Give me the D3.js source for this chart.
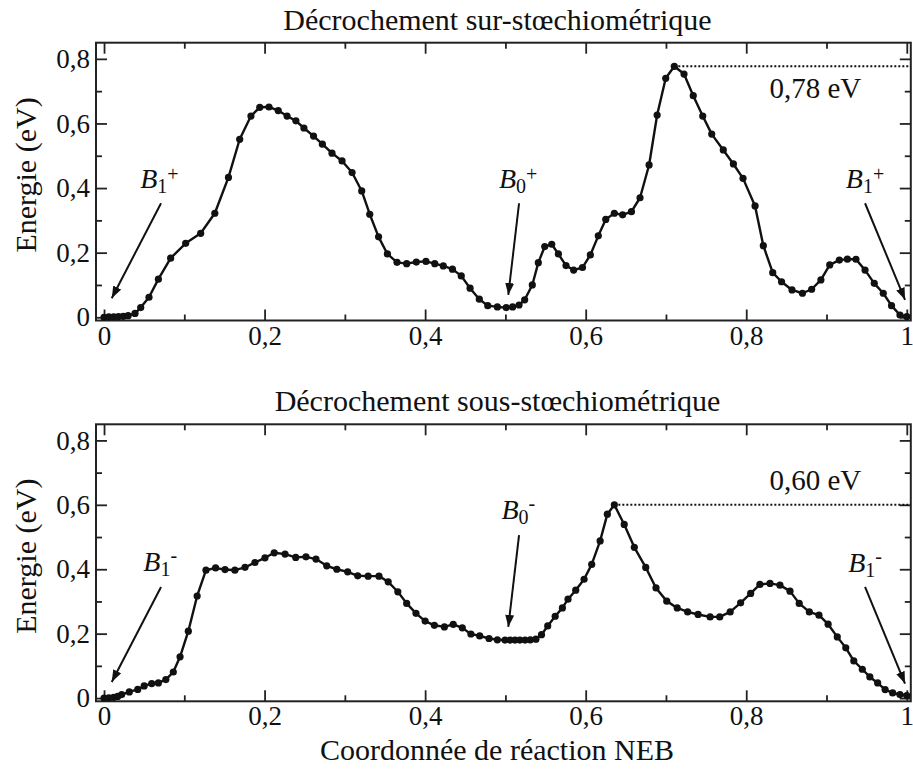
<!DOCTYPE html>
<html>
<head>
<meta charset="utf-8">
<script src="https://cdn.jsdelivr.net/npm/d3@7"></script>
<style>
  html, body { margin: 0; padding: 0; background: #fff; }
  svg { display: block; }
</style>
</head>
<body>
<svg id="chart" width="913" height="769"></svg>
<script>
// ---------------- DATA ----------------
const panelTitles = ["Décrochement sur-stœchiométrique", "Décrochement sous-stœchiométrique"];
const xAxisTitle = "Coordonnée de réaction NEB";
const yAxisTitle = "Energie (eV)";
const barrierLabels = ["0,78 eV", "0,60 eV"];

const xTickValues = [0, 0.2, 0.4, 0.6, 0.8, 1];
const xTickLabels = ["0", "0,2", "0,4", "0,6", "0,8", "1"];
const xMinorTicks = [0.1, 0.3, 0.5, 0.7, 0.9];
const yTickValues = [0, 0.2, 0.4, 0.6, 0.8];
const yTickLabels = ["0", "0,2", "0,4", "0,6", "0,8"];
const yMinorTicks = [0.1, 0.3, 0.5, 0.7];

// Top panel : sur-stoechiometrique
const xTop = [0, 0.006, 0.012, 0.018, 0.024, 0.030, 0.0386, 0.0457, 0.056, 0.0677,
  0.083, 0.1017, 0.1204, 0.138, 0.155, 0.169, 0.183, 0.194, 0.2055, 0.217,
  0.228, 0.239, 0.249, 0.261, 0.272, 0.284, 0.2965, 0.309, 0.321, 0.331,
  0.342, 0.353, 0.365, 0.377, 0.389, 0.401, 0.412, 0.4226, 0.434, 0.445,
  0.456, 0.4675, 0.478, 0.490, 0.501, 0.509, 0.517, 0.524, 0.5335, 0.541,
  0.549, 0.5577, 0.566, 0.5755, 0.585, 0.596, 0.6058, 0.6157, 0.625, 0.6357,
  0.646, 0.657, 0.6677, 0.679, 0.689, 0.6997, 0.7104, 0.7225, 0.734, 0.7458,
  0.757, 0.7714, 0.784, 0.796, 0.811, 0.8213, 0.833, 0.844, 0.857, 0.870,
  0.8815, 0.893, 0.904, 0.916, 0.926, 0.9367, 0.948, 0.9595, 0.9707, 0.981,
  0.9915, 1.0];
const yTop = [0.000, 0.001, 0.001, 0.002, 0.003, 0.005, 0.012, 0.030, 0.062, 0.118,
  0.183, 0.229, 0.260, 0.322, 0.433, 0.551, 0.623, 0.650, 0.651, 0.640,
  0.623, 0.608, 0.586, 0.561, 0.536, 0.508, 0.484, 0.448, 0.391, 0.319,
  0.249, 0.196, 0.170, 0.166, 0.171, 0.173, 0.166, 0.159, 0.149, 0.128,
  0.090, 0.056, 0.036, 0.032, 0.030, 0.032, 0.038, 0.054, 0.100, 0.169,
  0.219, 0.226, 0.196, 0.160, 0.146, 0.154, 0.193, 0.252, 0.303, 0.322,
  0.317, 0.327, 0.370, 0.4715, 0.626, 0.740, 0.777, 0.753, 0.686, 0.623,
  0.567, 0.518, 0.4746, 0.430, 0.3446, 0.2217, 0.138, 0.110, 0.0845, 0.0743,
  0.0867, 0.1155, 0.162, 0.177, 0.180, 0.1796, 0.146, 0.105, 0.0743, 0.036,
  0.007, 0.002];

// Bottom panel : sous-stoechiometrique
const xBot = [0, 0.006, 0.012, 0.017, 0.022, 0.0315, 0.042, 0.050, 0.0594, 0.0677,
  0.077, 0.0863, 0.0947, 0.105, 0.116, 0.127, 0.139, 0.1507, 0.163, 0.1756,
  0.188, 0.2005, 0.212, 0.2255, 0.2388, 0.2516, 0.264, 0.2774, 0.290, 0.3035,
  0.316, 0.329, 0.3425, 0.354, 0.366, 0.377, 0.3886, 0.400, 0.4115, 0.424,
  0.435, 0.4463, 0.457, 0.468, 0.4796, 0.490, 0.4995, 0.506, 0.512, 0.518,
  0.5245, 0.531, 0.538, 0.545, 0.5527, 0.562, 0.571, 0.578, 0.5876, 0.598,
  0.6075, 0.618, 0.627, 0.6357, 0.648, 0.6606, 0.6748, 0.6876, 0.701, 0.714,
  0.727, 0.740, 0.755, 0.767, 0.780, 0.793, 0.8055, 0.817, 0.8296, 0.842,
  0.8545, 0.866, 0.8786, 0.8906, 0.902, 0.9134, 0.924, 0.934, 0.9446, 0.954,
  0.9637, 0.973, 0.9824, 0.9915, 1.0];
const yBot = [0.000, 0.001, 0.002, 0.005, 0.011, 0.019, 0.027, 0.0376, 0.045, 0.047,
  0.0575, 0.081, 0.128, 0.2076, 0.317, 0.397, 0.404, 0.399, 0.397, 0.406,
  0.421, 0.4355, 0.451, 0.447, 0.4367, 0.4386, 0.4315, 0.4106, 0.400, 0.392,
  0.3796, 0.3786, 0.3786, 0.361, 0.330, 0.294, 0.263, 0.239, 0.226, 0.221,
  0.229, 0.218, 0.199, 0.193, 0.185, 0.181, 0.180, 0.180, 0.180, 0.180,
  0.180, 0.181, 0.183, 0.197, 0.224, 0.254, 0.280, 0.307, 0.335, 0.369,
  0.415, 0.488, 0.571, 0.600, 0.539, 0.468, 0.4057, 0.342, 0.301, 0.280,
  0.2676, 0.2596, 0.252, 0.252, 0.2676, 0.2957, 0.3248, 0.353, 0.356, 0.3506,
  0.332, 0.294, 0.2676, 0.2574, 0.2294, 0.190, 0.156, 0.1153, 0.0895, 0.0656,
  0.047, 0.0264, 0.0159, 0.011, 0.008];

// Annotation labels (state names) in data coordinates
const annTop = [
  { sub: "1", sup: "+", tx: 0.045, ty: 0.399, ax1: 0.071, ay1: 0.353, ax2: 0.0096, ay2: 0.059 },
  { sub: "0", sup: "+", tx: 0.492, ty: 0.399, ax1: 0.517, ay1: 0.353, ax2: 0.5036, ay2: 0.069 },
  { sub: "1", sup: "+", tx: 0.924, ty: 0.399, ax1: 0.948, ay1: 0.353, ax2: 0.9978, ay2: 0.054 }
];
const annBot = [
  { sub: "1", sup: "-", tx: 0.049, ty: 0.394, ax1: 0.071, ay1: 0.345, ax2: 0.0096, ay2: 0.050 },
  { sub: "0", sup: "-", tx: 0.495, ty: 0.555, ax1: 0.517, ay1: 0.506, ax2: 0.5036, ay2: 0.221 },
  { sub: "1", sup: "-", tx: 0.927, ty: 0.392, ax1: 0.948, ay1: 0.345, ax2: 0.9978, ay2: 0.045 }
];
const barrierLabelPos = [{ x: 0.829, y: 0.678 }, { x: 0.829, y: 0.646 }];

// ---------------- DRAW ----------------
const FONT = '"Liberation Serif", "Times New Roman", Times, serif';
const svg = d3.select("#chart");
svg.append("rect").attr("width", 913).attr("height", 769).attr("fill", "#fff");

const defs = svg.append("defs");
defs.append("marker")
  .attr("id", "arrowhead")
  .attr("markerUnits", "userSpaceOnUse")
  .attr("viewBox", "0 -5 12 10")
  .attr("refX", 12).attr("refY", 0)
  .attr("markerWidth", 12).attr("markerHeight", 10)
  .attr("orient", "auto")
  .append("path").attr("d", "M0,-4.5L12,0L0,4.5Z").attr("fill", "#111");

const left = 96, right = 910.8;
const panels = [
  { top: 42.7, bottom: 320.5, xs: xTop, ys: yTop, ann: annTop, titleY: 30 },
  { top: 424.3, bottom: 701.3, xs: xBot, ys: yBot, ann: annBot, titleY: 410.7 }
];

const fmtX = d => xTickLabels[xTickValues.indexOf(d)];
const fmtY = d => yTickLabels[yTickValues.indexOf(d)];

const addText = (sel, size) => sel.append("text")
  .style("font-family", FONT).style("font-size", size + "px").attr("fill", "#111");

panels.forEach((p, i) => {
  const x = d3.scaleLinear().domain([-0.01, 1.005]).range([left, right]);
  const y = d3.scaleLinear().domain([-0.01, 0.85]).range([p.bottom, p.top]);
  const g = svg.append("g");

  // Title
  addText(g, 30).attr("x", 497.5).attr("y", p.titleY)
    .attr("text-anchor", "middle").text(panelTitles[i]);

  // Axes with inward ticks
  const styleAxis = sel => {
    sel.select(".domain").remove();
    sel.selectAll(".tick line").attr("stroke", "#222").attr("stroke-width", 1.8);
    sel.selectAll(".tick text").style("font-family", FONT).style("font-size", "27px").attr("fill", "#111");
  };
  g.append("g").attr("transform", `translate(0,${p.bottom})`)
    .call(d3.axisBottom(x).tickValues(xTickValues).tickFormat(fmtX).tickSizeInner(-11).tickSizeOuter(0).tickPadding(5))
    .call(styleAxis);
  g.append("g").attr("transform", `translate(0,${p.bottom})`)
    .call(d3.axisBottom(x).tickValues(xMinorTicks).tickFormat("").tickSizeInner(-6).tickSizeOuter(0))
    .call(styleAxis);
  g.append("g").attr("transform", `translate(0,${p.top})`)
    .call(d3.axisTop(x).tickValues(xTickValues).tickFormat("").tickSizeInner(-11).tickSizeOuter(0))
    .call(styleAxis);
  g.append("g").attr("transform", `translate(0,${p.top})`)
    .call(d3.axisTop(x).tickValues(xMinorTicks).tickFormat("").tickSizeInner(-6).tickSizeOuter(0))
    .call(styleAxis);
  g.append("g").attr("transform", `translate(${left},0)`)
    .call(d3.axisLeft(y).tickValues(yTickValues).tickFormat(fmtY).tickSizeInner(-11).tickSizeOuter(0).tickPadding(6))
    .call(styleAxis);
  g.append("g").attr("transform", `translate(${left},0)`)
    .call(d3.axisLeft(y).tickValues(yMinorTicks).tickFormat("").tickSizeInner(-6).tickSizeOuter(0))
    .call(styleAxis);
  g.append("g").attr("transform", `translate(${right},0)`)
    .call(d3.axisRight(y).tickValues(yTickValues).tickFormat("").tickSizeInner(-11).tickSizeOuter(0))
    .call(styleAxis);
  g.append("g").attr("transform", `translate(${right},0)`)
    .call(d3.axisRight(y).tickValues(yMinorTicks).tickFormat("").tickSizeInner(-6).tickSizeOuter(0))
    .call(styleAxis);

  // Frame
  g.append("rect").attr("x", left).attr("y", p.top)
    .attr("width", right - left).attr("height", p.bottom - p.top)
    .attr("fill", "none").attr("stroke", "#222").attr("stroke-width", 2);

  // Y axis title
  const yc = (y(0.85) + y(0)) / 2 - 5;
  addText(g, 30).attr("transform", `translate(36,${yc}) rotate(-90)`)
    .attr("text-anchor", "middle").text(yAxisTitle);

  // Data
  const pts = p.xs.map((d, k) => [d, p.ys[k]]);
  const peak = pts.reduce((a, b) => (b[1] > a[1] ? b : a));

  // Dotted barrier line
  g.append("line")
    .attr("x1", x(peak[0])).attr("x2", right)
    .attr("y1", y(peak[1])).attr("y2", y(peak[1]))
    .attr("stroke", "#111").attr("stroke-width", 2).attr("stroke-dasharray", "2,2");

  const line = d3.line().x(d => x(d[0])).y(d => y(d[1]));
  g.append("path").datum(pts).attr("d", line)
    .attr("fill", "none").attr("stroke", "#111").attr("stroke-width", 2.4)
    .attr("stroke-linejoin", "round");
  g.selectAll("circle.pt").data(pts).enter().append("circle")
    .attr("class", "pt").attr("cx", d => x(d[0])).attr("cy", d => y(d[1]))
    .attr("r", 3.6).attr("fill", "#111");

  // Barrier label
  addText(g, 29).attr("x", x(barrierLabelPos[i].x)).attr("y", y(barrierLabelPos[i].y))
    .text(barrierLabels[i]);

  // State annotations
  p.ann.forEach(a => {
    const t = addText(g, 28).attr("x", x(a.tx)).attr("y", y(a.ty));
    t.append("tspan").style("font-style", "italic").text("B");
    t.append("tspan").style("font-size", "20px").attr("dy", 5).text(a.sub);
    t.append("tspan").style("font-size", "20px").attr("dy", a.sup === "+" ? -12 : -14).text(a.sup);
    g.append("line")
      .attr("x1", x(a.ax1)).attr("y1", y(a.ay1))
      .attr("x2", x(a.ax2)).attr("y2", y(a.ay2))
      .attr("stroke", "#111").attr("stroke-width", 2)
      .attr("marker-end", "url(#arrowhead)");
  });
});

// X axis title
addText(svg, 30).attr("x", 497).attr("y", 760)
  .attr("text-anchor", "middle").text(xAxisTitle);
</script>
</body>
</html>
